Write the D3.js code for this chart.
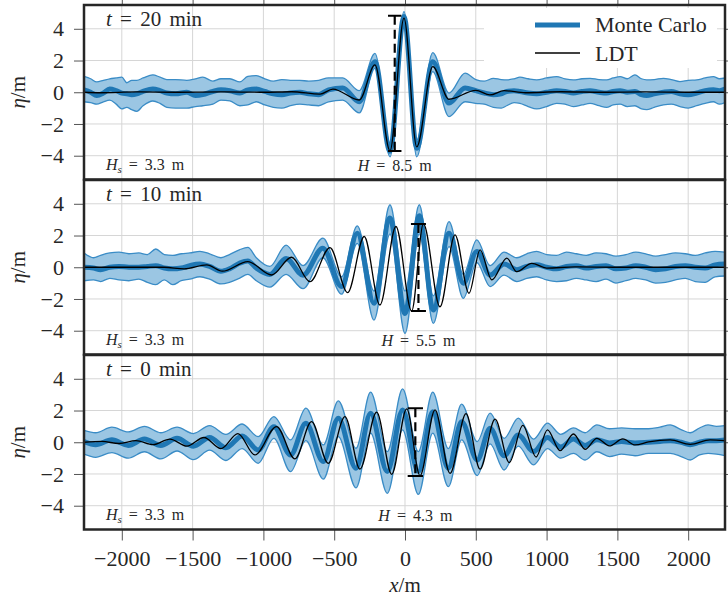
<!DOCTYPE html>
<html>
<head>
<meta charset="utf-8">
<script src="https://cdn.jsdelivr.net/npm/d3@7"></script>
<style>
  body { margin: 0; background: #fff; }
  svg { display: block; }
  svg text { font-family: "Liberation Serif", serif !important; fill: #262626; }
</style>
</head>
<body>
<div id="chart"></div>
<script>
// tick labels
const xTickValues = [-2000, -1500, -1000, -500, 0, 500, 1000, 1500, 2000];
const yTickValues = [-4, -2, 0, 2, 4];

// panel labels
const panelTimes = ['20', '10', '0'];
const hsValues = ['3.3', '3.3', '3.3'];
const hValues = ['8.5', '5.5', '4.3'];

// H markers: crest / trough height and x extent of the caps
const markerTop = [4.82, 2.73, 2.15];
const markerBottom = [-3.71, -2.76, -2.13];
const markerX0 = [-120, 42, 19];
const markerX1 = [-25, 148, 127];

// t = 20 min : Monte Carlo mean and band (knots shared)
const knots20 = [-2267, -2220, -2177, -2130, -2085, -2040, -2000, -1965, -1930, -1894, -1850, -1781, -1730, -1682, -1620, -1541, -1480, -1428, -1357, -1300, -1237, -1166, -1110, -1050, -990, -930, -870, -810, -742, -680, -610, -540, -440, -323, -212, -106, -7, 83, 196, 311, 424, 500, 560, 624, 680, 718, 770, 812, 870, 930, 1000, 1071, 1130, 1189, 1250, 1307, 1370, 1424, 1470, 1519, 1570, 1624, 1670, 1707, 1760, 1825, 1880, 1942, 2000, 2060, 2120, 2178, 2220, 2260];
const mean20 = [0.15, 0.0, -0.2, -0.05, 0.2, 0.1, -0.05, -0.1, -0.15, -0.1, 0.05, 0.2, 0.1, -0.05, -0.1, 0.0, -0.2, -0.15, 0.05, 0.15, 0.1, -0.05, 0.15, 0.2, 0.05, -0.1, -0.15, -0.05, 0.0, -0.1, -0.15, 0.15, 0.27, -0.6, 1.93, -3.72, 4.78, -3.53, 1.93, -0.68, 0.27, 0.1, -0.05, -0.15, -0.1, 0.05, 0.1, 0.05, -0.05, -0.1, 0.0, 0.1, 0.05, -0.05, 0.05, 0.1, 0.0, -0.05, 0.05, 0.1, 0.0, 0.05, -0.15, -0.2, -0.1, 0.0, 0.05, -0.1, -0.15, -0.05, 0.1, 0.15, 0.1, 0.2];
const upper20 = [1.0, 0.85, 0.65, 0.75, 0.85, 0.9, 0.95, 0.6, 0.75, 0.75, 0.9, 1.1, 0.95, 0.8, 0.8, 0.75, 0.85, 0.95, 0.7, 0.85, 0.85, 0.65, 1.0, 1.05, 0.85, 0.7, 0.8, 0.75, 0.75, 0.7, 0.75, 0.9, 0.9, 0.1, 2.45, -3.2, 5.08, -3.0, 2.5, -0.05, 1.2, 0.8, 0.7, 0.88, 0.8, 0.78, 0.85, 0.95, 0.85, 0.78, 0.9, 0.99, 0.85, 0.78, 0.85, 0.88, 0.8, 0.78, 0.9, 0.99, 0.85, 1.1, 0.85, 0.78, 0.8, 0.88, 0.8, 0.67, 0.75, 0.78, 0.9, 0.99, 0.85, 0.9];
const lower20 = [-0.6, -0.65, -0.75, -0.6, -0.5, -0.75, -1.05, -0.95, -1.1, -1.2, -0.85, -0.55, -0.7, -0.95, -1.0, -1.0, -0.9, -0.85, -0.75, -0.5, -0.55, -0.85, -0.8, -0.6, -0.8, -0.95, -1.0, -0.85, -0.75, -0.8, -0.85, -0.6, -0.5, -1.3, 1.5, -4.07, 4.4, -4.07, 1.3, -1.54, -0.6, -0.7, -0.75, -0.95, -1.0, -0.85, -0.65, -0.7, -0.9, -1.05, -0.9, -0.7, -0.75, -0.9, -0.8, -0.7, -0.85, -0.95, -0.8, -0.75, -0.9, -0.85, -1.05, -1.1, -0.95, -0.8, -0.75, -0.9, -1.0, -0.85, -0.7, -0.6, -0.75, -0.65];
const ldtX20 = [-2267, -2150, -1900, -1600, -1300, -1000, -800, -600, -509, -323, -212, -106, -7, 83, 196, 311, 500, 600, 700, 850, 1100, 1400, 1700, 2000, 2260];
const ldt20 = [0.0, -0.03, 0.02, 0.0, 0.02, 0.0, 0.03, -0.12, 0.2, -0.49, 1.72, -3.69, 4.67, -3.44, 1.62, -0.44, 0.12, -0.17, 0.1, -0.03, 0.03, 0.0, 0.02, 0.0, 0.0];

// t = 10 min
const knots10 = [-2267, -2200, -2150, -2085, -2020, -1950, -1880, -1820, -1760, -1700, -1640, -1580, -1520, -1448, -1380, -1300, -1240, -1170, -1110, -1050, -954, -840, -720, -580, -448, -337, -219, -106, 0, 101, 200, 311, 412, 507, 601, 700, 790, 860, 930, 1000, 1070, 1140, 1210, 1280, 1350, 1420, 1490, 1560, 1630, 1700, 1770, 1840, 1910, 1980, 2050, 2120, 2190, 2260];
const mean10 = [0.0, -0.05, -0.15, 0.0, 0.05, 0.0, 0.0, 0.05, 0.1, -0.05, -0.1, -0.05, 0.1, 0.2, 0.05, -0.25, -0.1, 0.25, 0.4, -0.05, -0.45, 0.55, -0.5, 1.2, -1.22, 2.15, -2.27, 3.1, -2.91, 3.24, -2.7, 2.15, -1.01, 0.99, -0.49, 0.2, -0.15, 0.05, 0.15, 0.0, -0.1, 0.05, 0.1, -0.05, 0.05, 0.1, -0.1, -0.05, 0.1, 0.0, -0.15, -0.1, 0.05, 0.1, 0.0, -0.05, 0.15, 0.2];
const upper10 = [0.9, 0.6, 0.75, 0.9, 0.95, 0.85, 0.9, 0.8, 1.15, 0.8, 0.75, 0.85, 0.9, 1.0, 0.85, 0.6, 0.8, 1.1, 1.25, 0.6, 0.05, 1.4, 0.1, 1.83, -0.6, 2.61, -1.5, 3.94, -1.5, 3.94, -1.8, 2.88, -0.45, 1.72, 0.1, 0.95, 0.6, 0.85, 1.0, 0.8, 0.75, 0.95, 0.85, 0.75, 0.9, 0.85, 0.7, 0.8, 0.95, 0.85, 0.7, 0.8, 0.9, 0.85, 0.75, 0.9, 1.0, 0.95];
const lower10 = [-0.85, -0.8, -0.9, -0.7, -0.8, -0.85, -0.75, -0.95, -1.1, -0.8, -1.1, -0.85, -0.75, -0.6, -0.75, -1.05, -0.95, -0.7, -0.45, -0.85, -1.25, -0.45, -1.35, 0.6, -1.7, 1.5, -3.33, 2.1, -4.17, 2.1, -3.54, 1.3, -1.96, 0.3, -1.22, -0.5, -0.9, -0.7, -0.6, -0.8, -0.9, -0.85, -0.7, -0.8, -0.9, -0.75, -1.0, -0.85, -0.7, -0.8, -1.0, -0.95, -0.8, -0.7, -0.9, -0.95, -0.6, -0.55];
const ldtX10 = [-2267, -1900, -1700, -1560, -1400, -1290, -1110, -942, -801, -671, -530, -405, -288, -177, -64, 47, 130, 247, 353, 452, 530, 613, 719, 789, 895, 1000, 1200, 1500, 2260];
const ldt10 = [0.0, 0.0, 0.0, -0.1, 0.15, -0.25, 0.35, -0.49, 0.63, -0.91, 1.24, -1.6, 1.94, -2.38, 2.57, -2.76, 2.73, -2.49, 2.04, -1.64, 1.09, -0.8, 0.57, -0.28, 0.25, -0.05, 0.02, 0.0, 0.0];

// t = 0 min
const knots0 = [-2267, -2185, -2070, -1955, -1840, -1725, -1610, -1495, -1380, -1265, -1150, -1037, -926, -808, -700, -577, -471, -346, -243, -125, -17, 94, 196, 306, 400, 510, 601, 700, 800, 908, 1006, 1100, 1190, 1272, 1355, 1444, 1530, 1625, 1720, 1800, 1873, 1950, 2014, 2080, 2140, 2200, 2260];
const mean0 = [0.05, -0.15, 0.15, -0.2, 0.2, -0.2, 0.25, -0.25, 0.3, -0.35, 0.4, -0.49, 0.98, -0.8, 1.2, -1.22, 1.52, -1.64, 1.83, -1.85, 2.04, -1.85, 1.93, -1.64, 1.3, -1.12, 0.88, -0.85, 0.46, -0.59, 0.3, -0.3, 0.2, -0.2, 0.15, -0.05, 0.05, -0.05, 0.0, 0.05, 0.1, 0.0, -0.15, 0.0, 0.1, 0.1, 0.15];
const upper0 = [0.75, 0.6, 0.95, 0.65, 1.0, 0.6, 0.95, 0.55, 1.05, 0.5, 1.15, 0.35, 1.62, 0.15, 2.15, -0.17, 2.61, -0.38, 3.16, -0.59, 3.37, -0.59, 3.16, -0.4, 2.4, 0.04, 1.83, 0.25, 1.52, 0.2, 1.2, 0.5, 0.9, 0.6, 1.09, 0.85, 0.9, 0.85, 0.85, 0.95, 1.09, 0.8, 0.6, 0.9, 1.09, 1.0, 1.05];
const lower0 = [-0.75, -0.95, -0.65, -1.0, -0.6, -1.05, -0.55, -1.1, -0.5, -1.15, -0.4, -1.33, 0.25, -1.85, 0.1, -2.32, 0.35, -2.87, 0.57, -3.22, 0.78, -3.29, 0.57, -2.8, 0.15, -2.1, -0.1, -1.75, -0.25, -1.43, -0.4, -1.0, -0.7, -1.12, -0.6, -0.9, -0.75, -0.85, -0.7, -0.7, -0.7, -0.9, -1.12, -0.8, -0.7, -0.75, -0.85];
const ldtX0 = [-2267, -2140, -2020, -1900, -1780, -1660, -1540, -1420, -1300, -1180, -1060, -907, -777, -660, -542, -424, -318, -200, -94, 12, 106, 212, 318, 431, 530, 636, 737, 832, 926, 1006, 1095, 1190, 1272, 1355, 1444, 1538, 1625, 1720, 1873, 2014, 2155, 2260];
const ldt0 = [0.0, 0.05, -0.08, 0.1, -0.15, 0.2, -0.25, 0.3, -0.4, 0.55, -0.8, 0.99, -1.05, 1.3, -1.33, 1.62, -1.69, 1.9, -2.02, 2.1, -2.1, 2.04, -1.96, 1.8, -1.7, 1.46, -1.28, 1.07, -0.93, 0.78, -0.53, 0.52, -0.44, 0.25, -0.23, 0.21, -0.17, 0.02, 0.15, -0.13, 0.15, 0.1];

const panels = [
  { knots: knots20, mean: mean20, upper: upper20, lower: lower20, ldtX: ldtX20, ldt: ldt20 },
  { knots: knots10, mean: mean10, upper: upper10, lower: lower10, ldtX: ldtX10, ldt: ldt10 },
  { knots: knots0, mean: mean0, upper: upper0, lower: lower0, ldtX: ldtX0, ldt: ldt0 }
];

const width = 728, height = 607;
const left = 84, right = 725;
const panelTops = [5, 180, 355];
const panelH = 174.5;
const blue = '#1f77b4';
const serif = '"Liberation Serif", serif';

const svg = d3.select('#chart').append('svg')
  .attr('width', width)
  .attr('height', height)
  .style('font-family', serif);

const x = d3.scaleLinear().domain([-2267, 2260]).range([left, right]);

panels.forEach((p, i) => {
  const top = panelTops[i];
  const y = d3.scaleLinear().domain([-5.5, 5.5]).range([top + panelH, top]);
  const g = svg.append('g');

  g.append('clipPath').attr('id', 'clip' + i)
    .append('rect')
    .attr('x', left).attr('y', top)
    .attr('width', right - left).attr('height', panelH);

  // grid
  g.selectAll('.gx').data(xTickValues).join('line')
    .attr('x1', d => x(d)).attr('x2', d => x(d))
    .attr('y1', top).attr('y2', top + panelH)
    .attr('stroke', '#d6d6d6').attr('stroke-width', 1);
  g.selectAll('.gy').data(yTickValues).join('line')
    .attr('x1', left).attr('x2', right)
    .attr('y1', d => y(d)).attr('y2', d => y(d))
    .attr('stroke', '#d6d6d6').attr('stroke-width', 1);

  const pts = p.knots.map((k, j) => ({ x: k, m: p.mean[j], up: p.upper[j], lo: p.lower[j] }));
  const ldtPts = p.ldtX.map((k, j) => ({ x: k, v: p.ldt[j] }));

  const plot = g.append('g').attr('clip-path', `url(#clip${i})`);

  const area = d3.area()
    .x(d => x(d.x)).y0(d => y(d.lo)).y1(d => y(d.up))
    .curve(d3.curveMonotoneX);
  plot.append('path').datum(pts)
    .attr('d', area)
    .attr('fill', '#9bc6e3');

  const edge = key => d3.line().x(d => x(d.x)).y(d => y(d[key])).curve(d3.curveMonotoneX);
  ['up', 'lo'].forEach(k => {
    plot.append('path').datum(pts)
      .attr('d', edge(k))
      .attr('fill', 'none')
      .attr('stroke', '#3a8cc6')
      .attr('stroke-width', 1.3);
  });

  plot.append('path').datum(pts)
    .attr('d', edge('m'))
    .attr('fill', 'none')
    .attr('stroke', blue)
    .attr('stroke-width', 5);

  plot.append('path').datum(ldtPts)
    .attr('d', d3.line().x(d => x(d.x)).y(d => y(d.v)).curve(d3.curveMonotoneX))
    .attr('fill', 'none')
    .attr('stroke', '#000')
    .attr('stroke-width', 1.3);

  // H marker
  const x0 = markerX0[i], x1 = markerX1[i], xm = (x0 + x1) / 2;
  [markerTop[i], markerBottom[i]].forEach(v => {
    plot.append('line')
      .attr('x1', x(x0)).attr('x2', x(x1))
      .attr('y1', y(v)).attr('y2', y(v))
      .attr('stroke', '#000').attr('stroke-width', 2);
  });
  plot.append('line')
    .attr('x1', x(xm)).attr('x2', x(xm))
    .attr('y1', y(markerTop[i])).attr('y2', y(markerBottom[i]))
    .attr('stroke', '#000').attr('stroke-width', 2.2)
    .attr('stroke-dasharray', '9,5');

  // texts
  const tText = g.append('text')
    .attr('x', 106).attr('y', top + 21)
    .attr('font-size', 21).attr('word-spacing', 3);
  tText.append('tspan').attr('font-style', 'italic').text('t');
  tText.append('tspan').text(` = ${panelTimes[i]} min`);

  const hsText = g.append('text')
    .attr('x', 106).attr('y', top + 165)
    .attr('font-size', 16).attr('word-spacing', 3);
  hsText.append('tspan').attr('font-style', 'italic').text('H');
  hsText.append('tspan').attr('font-style', 'italic').attr('font-size', 11).attr('dy', 3).text('s');
  hsText.append('tspan').attr('dy', -3).text(` = ${hsValues[i]} m`);

  const hText = g.append('text')
    .attr('x', x(xm)).attr('y', top + 166)
    .attr('text-anchor', 'middle')
    .attr('font-size', 16).attr('word-spacing', 3);
  hText.append('tspan').attr('font-style', 'italic').text('H');
  hText.append('tspan').text(` = ${hValues[i]} m`);

  // axes
  const styleAxis = sel => {
    sel.attr('font-family', serif);
    sel.select('.domain').remove();
    sel.selectAll('.tick line').attr('stroke', '#555').attr('stroke-width', 1);
    sel.selectAll('.tick text')
      .attr('font-size', 22)
      .attr('fill', '#262626');
  };
  g.append('g').attr('transform', `translate(${left},0)`)
    .call(d3.axisLeft(y).tickValues(yTickValues).tickSize(10).tickPadding(10).tickFormat(d3.format('d')))
    .call(styleAxis);
  g.append('g').attr('transform', `translate(${right},0)`)
    .call(d3.axisRight(y).tickValues(yTickValues).tickSize(8).tickFormat(''))
    .call(styleAxis);
  if (i === 0) {
    g.append('g').attr('transform', `translate(0,${top})`)
      .call(d3.axisTop(x).tickValues(xTickValues).tickSize(8).tickFormat(''))
      .call(styleAxis);
  }
  if (i === panels.length - 1) {
    g.append('g').attr('transform', `translate(0,${top + panelH})`)
      .call(d3.axisBottom(x).tickValues(xTickValues).tickSize(11).tickPadding(10).tickFormat(d3.format('d')))
      .call(styleAxis);
  }

  g.append('rect')
    .attr('x', left).attr('y', top)
    .attr('width', right - left).attr('height', panelH)
    .attr('fill', 'none')
    .attr('stroke', '#262626')
    .attr('stroke-width', 2.5);

  // y label
  const yl = svg.append('text')
    .attr('transform', `translate(25,${top + panelH / 2}) rotate(-90)`)
    .attr('text-anchor', 'middle')
    .attr('font-size', 21);
  yl.append('tspan').attr('font-style', 'italic').text('η');
  yl.append('tspan').text('/m');
});

// legend
const legend = svg.append('g');
legend.append('rect')
  .attr('x', 484).attr('y', 8).attr('width', 233).attr('height', 60)
  .attr('fill', '#fff');
legend.append('line')
  .attr('x1', 535).attr('x2', 580).attr('y1', 25).attr('y2', 25)
  .attr('stroke', blue).attr('stroke-width', 5);
legend.append('text').attr('x', 595).attr('y', 32).attr('font-size', 22).text('Monte Carlo');
legend.append('line')
  .attr('x1', 535).attr('x2', 580).attr('y1', 53).attr('y2', 53)
  .attr('stroke', '#000').attr('stroke-width', 1.3);
legend.append('text').attr('x', 595).attr('y', 61).attr('font-size', 22).text('LDT');

// x label, centred under x = 0
const xl = svg.append('text')
  .attr('x', x(0)).attr('y', 592)
  .attr('text-anchor', 'middle')
  .attr('font-size', 21);
xl.append('tspan').attr('font-style', 'italic').text('x');
xl.append('tspan').text('/m');
</script>
</body>
</html>
